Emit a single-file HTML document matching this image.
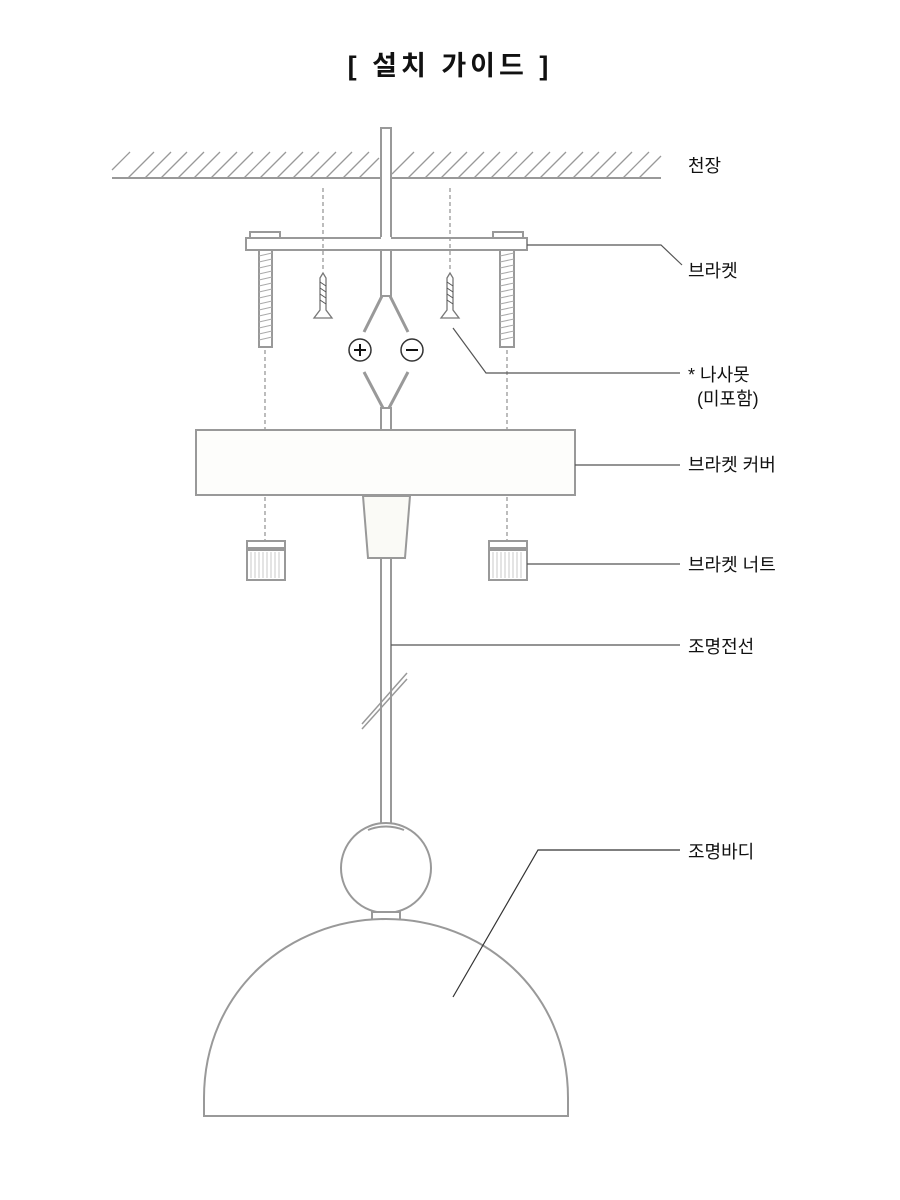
<!DOCTYPE html>
<html><head><meta charset="utf-8"><style>
html,body{margin:0;padding:0;background:#fff;}
svg{display:block}
text{font-family:"Liberation Sans","Noto Sans CJK KR",sans-serif;fill:#111;}
</style></head><body>
<svg width="900" height="1200" viewBox="0 0 900 1200" xmlns="http://www.w3.org/2000/svg">
<text x="450" y="75" text-anchor="middle" font-size="27" font-weight="bold" letter-spacing="4">[ 설치 가이드 ]</text>
<g stroke="#999" stroke-width="2" fill="none">
<line x1="112" y1="178" x2="661" y2="178"/>
<g stroke-width="1.3">
<path d="M112,170 L130,152 M128,178 L154,152 M145,178 L171,152 M161,178 L187,152 M178,178 L204,152 M194,178 L220,152 M211,178 L237,152 M227,178 L253,152 M244,178 L270,152 M260,178 L286,152 M277,178 L303,152 M293,178 L319,152 M310,178 L336,152 M326,178 L352,152 M343,178 L369,152 M359,178 L379,158 M392,174 L414,152 M408,178 L434,152 M425,178 L451,152 M441,178 L467,152 M458,178 L484,152 M474,178 L500,152 M491,178 L517,152 M507,178 L533,152 M524,178 L550,152 M540,178 L566,152 M557,178 L583,152 M573,178 L599,152 M590,178 L616,152 M606,178 L632,152 M623,178 L649,152 M639,178 L661,156"/>
</g>
<rect x="381" y="128" width="10" height="168" fill="#fff"/>
<rect x="250" y="232" width="30" height="6"/>
<rect x="493" y="232" width="30" height="6"/>
<rect x="246" y="238" width="281" height="12" fill="#fff"/>
<line x1="381" y1="238" x2="391" y2="238" stroke="#fff" stroke-width="2"/>
<rect x="259" y="250" width="13" height="97"/>
<rect x="500" y="250" width="14" height="97"/>
<g stroke-width="1" stroke="#aaa">
<path d="M259,256 L272,253 M259,262 L272,259 M259,268 L272,265 M259,274 L272,271 M259,280 L272,277 M259,286 L272,283 M259,292 L272,289 M259,298 L272,295 M259,304 L272,301 M259,310 L272,307 M259,316 L272,313 M259,322 L272,319 M259,328 L272,325 M259,334 L272,331 M259,340 L272,337"/>
<path d="M500,256 L514,253 M500,262 L514,259 M500,268 L514,265 M500,274 L514,271 M500,280 L514,277 M500,286 L514,283 M500,292 L514,289 M500,298 L514,295 M500,304 L514,301 M500,310 L514,307 M500,316 L514,313 M500,322 L514,319 M500,328 L514,325 M500,334 L514,331 M500,340 L514,337"/>
</g>
<g stroke-width="1.3" stroke-dasharray="4,3">
<line x1="323" y1="188" x2="323" y2="270"/>
<line x1="450" y1="188" x2="450" y2="270"/>
<line x1="265" y1="350" x2="265" y2="430"/>
<line x1="507" y1="350" x2="507" y2="430"/>
<line x1="265" y1="497" x2="265" y2="541"/>
<line x1="507" y1="497" x2="507" y2="541"/>
</g>
<path d="M320,278 L323,273 L326,278 L326,310 L332,318 L314,318 L320,310 Z" stroke="#777" stroke-width="1.3"/>
<path d="M447,278 L450,273 L453,278 L453,310 L459,318 L441,318 L447,310 Z" stroke="#777" stroke-width="1.3"/>
<path d="M320,282 L326,286 M320,288 L326,292 M320,294 L326,298 M320,300 L326,304 M447,282 L453,286 M447,288 L453,292 M447,294 L453,298 M447,300 L453,304" stroke="#555" stroke-width="1"/>
<path d="M382,296 L364,332 M390,296 L408,332 M364,372 L383,408 M408,372 L389,408" stroke-width="3"/>
<rect x="381" y="408" width="10" height="22" fill="#fff"/>
<rect x="196" y="430" width="379" height="65" fill="#fdfdfb"/>
<rect x="247" y="541" width="38" height="7"/>
<rect x="247" y="550" width="38" height="30"/>
<rect x="489" y="541" width="38" height="7"/>
<rect x="489" y="550" width="38" height="30"/>
<g stroke-width="0.8" stroke="#bbb">
<path d="M251,552 V578 M255,552 V578 M259,552 V578 M263,552 V578 M267,552 V578 M271,552 V578 M275,552 V578 M279,552 V578"/>
<path d="M493,552 V578 M497,552 V578 M501,552 V578 M505,552 V578 M509,552 V578 M513,552 V578 M517,552 V578 M521,552 V578"/>
</g>
<path d="M363,496 L410,496 L405,558 L368,558 Z" fill="#fafaf6"/>
<rect x="381" y="558" width="10" height="275" fill="#fff"/>
<path d="M362,724 L407,673 M362,729 L407,679" stroke-width="1.5"/>
<circle cx="386" cy="868" r="45" fill="#fff"/>
<path d="M368,830 Q386,823 404,830" stroke-width="2"/>
<rect x="372" y="912" width="28" height="8" fill="#fff"/>
<path d="M204,1116 V1098 C204,990 290,919 386,919 C482,919 568,990 568,1098 V1116 Z" fill="#fff"/>
</g>
<circle cx="360" cy="350" r="11" fill="#fff" stroke="#333" stroke-width="1.5"/>
<path d="M354,350 H366 M360,344 V356" stroke="#111" stroke-width="2"/>
<circle cx="412" cy="350" r="11" fill="#fff" stroke="#333" stroke-width="1.5"/>
<path d="M406,350 H418" stroke="#111" stroke-width="2"/>
<g stroke="#555" stroke-width="1.2" fill="none">
<path d="M527,245 H661 L682,265"/>
<path d="M453,328 L486,373 H680"/>
<path d="M575,465 H680"/>
<path d="M527,564 H680"/>
<path d="M391,645 H680"/>
<path d="M453,997 L538,850 H680" stroke="#333"/>
</g>
<g font-size="18">
<text x="688" y="172">천장</text>
<text x="688" y="277">브라켓</text>
<text x="688" y="381">* 나사못</text>
<text x="697" y="405">(미포함)</text>
<text x="688" y="471">브라켓 커버</text>
<text x="688" y="571">브라켓 너트</text>
<text x="688" y="653">조명전선</text>
<text x="688" y="858">조명바디</text>
</g>
</svg>
</body></html>
